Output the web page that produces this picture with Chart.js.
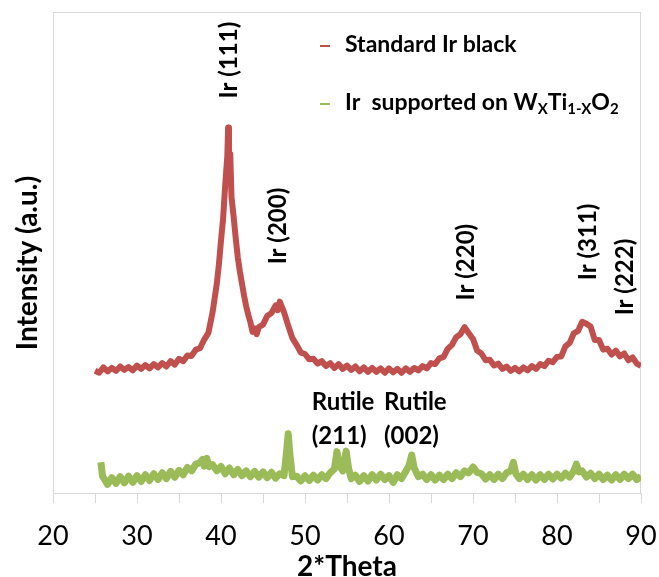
<!DOCTYPE html>
<html>
<head>
<meta charset="utf-8">
<script src="https://cdn.jsdelivr.net/npm/chart.js@4.4.0/dist/chart.umd.min.js"></script>
<style>
html,body{margin:0;padding:0;background:#fff;}
#c{display:block;}
</style>
</head>
<body>
<canvas id="c" width="659" height="577"></canvas>
<script>
// ---- data ----
const redTheta = [25.0,25.5,26.0,26.5,27.0,27.5,28.0,28.5,29.0,29.5,30.0,30.5,31.0,31.5,32.0,32.5,33.0,33.5,34.0,34.5,35.0,35.5,36.0,36.5,37.0,37.5,38.0,38.5,39.0,39.5,39.75,40.0,40.25,40.5,40.75,40.85,40.95,41.1,41.25,41.5,41.75,42.0,42.25,42.5,42.75,43.0,43.25,43.5,43.75,44.0,44.25,44.5,45.0,45.5,46.0,46.5,46.75,47.0,47.5,48.0,48.5,49.0,49.5,50.0,50.5,51.0,51.5,52.0,52.5,53.0,53.5,54.0,54.5,55.0,55.5,56.0,56.5,57.0,57.5,58.0,58.5,59.0,59.5,60.0,60.5,61.0,61.5,62.0,62.5,63.0,63.5,64.0,64.5,65.0,65.5,66.0,66.5,67.0,67.5,68.0,68.5,69.0,69.5,70.0,70.5,71.0,71.5,72.0,72.5,73.0,73.5,74.0,74.5,75.0,75.5,76.0,76.5,77.0,77.5,78.0,78.5,79.0,79.5,80.0,80.5,81.0,81.5,82.0,82.5,83.0,83.5,84.0,84.5,85.0,85.5,86.0,86.5,87.0,87.5,88.0,88.5,89.0,89.5,90.0];
const redIntensity = [25.4,25.0,26.1,25.3,26.0,25.4,26.3,25.6,26.2,25.5,26.5,25.8,26.6,25.9,26.8,26.1,27.0,26.3,27.4,26.7,27.9,27.4,28.6,28.5,29.8,30.1,31.9,33.3,37.6,43.5,47.5,52.5,57.0,64.0,70.0,76.0,67.0,70.5,61.5,57.5,53.0,49.0,46.0,43.5,41.0,38.8,37.0,35.5,33.5,34.2,33.0,34.5,35.0,36.8,37.4,39.0,38.0,39.8,37.6,34.8,32.2,30.8,29.2,28.9,27.8,27.9,26.9,27.4,26.4,27.0,26.0,26.8,25.8,26.5,25.6,26.3,25.3,26.1,25.2,26.0,25.2,25.9,25.0,25.9,25.1,25.8,25.0,25.9,25.2,26.0,25.5,26.4,25.9,27.0,26.8,28.0,28.3,30.0,30.8,32.4,33.0,34.5,33.2,32.0,29.6,29.0,27.6,27.7,26.5,26.9,25.8,26.3,25.4,26.0,25.3,26.1,25.5,26.4,25.8,26.8,26.4,27.5,27.2,28.3,28.4,30.5,31.2,33.2,33.7,35.6,35.2,34.6,31.8,31.8,29.8,30.0,28.8,29.6,28.4,29.0,27.6,28.2,26.9,26.4];

const greenTheta = [25.7,25.9,26.5,27.0,27.5,28.0,28.5,29.0,29.5,30.0,30.5,31.0,31.5,32.0,32.5,33.0,33.5,34.0,34.5,35.0,35.5,36.0,36.5,37.0,37.5,37.8,38.0,38.3,38.6,39.0,39.5,40.0,40.5,41.0,41.5,42.0,42.5,43.0,43.5,44.0,44.5,45.0,45.5,46.0,46.5,47.0,47.5,47.8,48.0,48.2,48.5,49.0,49.5,50.0,50.5,51.0,51.5,52.0,52.5,53.0,53.5,53.8,54.1,54.5,54.9,55.2,55.5,56.0,56.5,57.0,57.5,58.0,58.5,59.0,59.5,60.0,60.5,61.0,61.5,62.0,62.4,62.7,63.0,63.5,64.0,64.5,65.0,65.5,66.0,66.5,67.0,67.5,68.0,68.5,69.0,69.5,70.0,70.5,71.0,71.5,72.0,72.5,73.0,73.5,74.0,74.5,74.8,75.1,75.5,76.0,76.5,77.0,77.5,78.0,78.5,79.0,79.5,80.0,80.5,81.0,81.5,82.0,82.3,82.6,83.0,83.5,84.0,84.5,85.0,85.5,86.0,86.5,87.0,87.5,88.0,88.5,89.0,89.5,90.0];
const greenIntensity = [6.4,3.5,1.8,3.2,2.0,3.4,2.1,3.5,2.2,3.6,2.4,3.8,2.6,4.0,2.8,4.2,3.0,4.5,3.3,4.7,3.8,5.3,4.6,6.0,6.3,7.0,5.6,7.2,5.5,5.9,4.6,5.5,4.0,5.2,3.8,4.9,3.6,4.6,3.4,4.5,3.3,4.4,3.2,4.3,3.1,4.0,3.6,8.5,12.3,8.0,3.4,3.5,2.5,3.6,2.6,3.7,2.7,3.8,3.0,4.2,5.0,8.6,5.8,4.6,8.7,5.0,3.0,3.7,2.4,3.6,2.5,3.8,2.7,3.9,2.8,3.6,2.2,3.8,3.0,4.5,5.8,7.9,5.2,3.4,3.9,2.8,3.8,2.7,3.7,2.8,3.9,3.0,4.2,3.4,4.6,4.2,5.4,4.3,4.0,2.9,3.8,2.8,3.9,3.0,4.2,4.6,6.4,4.0,3.0,3.9,2.8,3.8,2.7,3.8,2.8,3.9,2.9,3.9,3.1,4.1,3.3,4.6,6.0,4.4,4.6,3.3,4.1,3.0,3.9,2.8,3.7,2.7,3.8,2.8,3.9,3.0,3.9,2.8,3.5];

const xTickValues = [20,30,40,50,60,70,80,90];
const seriesNames = ['Standard Ir black', 'Ir  supported on W'];
const peakLabels = ['Ir (111)','Ir (200)','Ir (220)','Ir (311)','Ir (222)'];
const peakTheta = [41.0,46.8,69.2,83.7,88.1];
const peakLevel = [90.0,55.5,48.0,52.2,44.9];
const rutileLines = [['Rutile','(211)'],['Rutile','(002)']];
const rutileTheta = [50.8,59.4];
const rutileLevel = [11.8,11.8];

const RED = '#C0504D';
const GREEN = '#9BBB59';
const FONT = 'Lato, "Open Sans", sans-serif';

const toPts = (xs, ys) => xs.map((v, i) => ({x: v, y: ys[i]}));

const extras = {
  id: 'extras',
  beforeDatasetsDraw(chart) {
    const {ctx, chartArea: a} = chart;
    ctx.save();
    ctx.strokeStyle = '#D9D9D9';
    ctx.lineWidth = 1;
    ctx.strokeRect(a.left + 0.5, a.top + 0.5, a.right - a.left - 1, a.bottom - a.top);
    ctx.restore();
  },
  afterDraw(chart) {
    const {ctx, scales: {x, y}} = chart;
    ctx.save();
    ctx.fillStyle = '#000';
    // y axis title
    ctx.save();
    ctx.translate(28, 263);
    ctx.rotate(-Math.PI / 2);
    ctx.font = 'bold 28px ' + FONT;
    ctx.textAlign = 'center';
    ctx.textBaseline = 'middle';
    ctx.fillText('Intensity (a.u.)', 0, 0);
    ctx.restore();

    // peak labels (vertical)
    ctx.font = 'bold 24px ' + FONT;
    peakLabels.forEach((t, i) => {
      ctx.save();
      ctx.translate(x.getPixelForValue(peakTheta[i]), y.getPixelForValue(peakLevel[i]));
      ctx.rotate(-Math.PI / 2);
      ctx.textAlign = 'center';
      ctx.textBaseline = 'middle';
      ctx.fillText(t, 0, 0);
      ctx.restore();
    });
    // rutile labels
    ctx.textAlign = 'left';
    ctx.textBaseline = 'middle';
    ctx.font = 'bold 24px ' + FONT;
    rutileLines.forEach((lines, i) => {
      const px = x.getPixelForValue(rutileTheta[i]);
      const py = y.getPixelForValue(rutileLevel[i]);
      ctx.fillText(lines[0], px, py - 34);
      ctx.fillText(lines[1], px, py);
    });

    // legend
    const lx = 320, tx = 345;
    const rows = [52, 110];
    ctx.lineWidth = 2;
    [RED, GREEN].forEach((c, i) => {
      ctx.strokeStyle = c;
      ctx.beginPath();
      ctx.moveTo(lx, rows[i] - 6);
      ctx.lineTo(lx + 10, rows[i] - 6);
      ctx.stroke();
    });
    ctx.textBaseline = 'alphabetic';
    ctx.font = 'bold 23px ' + FONT;
    ctx.fillText(seriesNames[0], tx, rows[0]);
    let cx = tx;
    const parts = [[seriesNames[1], 0], ['X', 1], ['Ti', 0], ['1-X', 1], ['O', 0], ['2', 1]];
    parts.forEach(([t, sub]) => {
      ctx.font = sub ? 'bold 15px ' + FONT : 'bold 23px ' + FONT;
      ctx.fillText(t, cx, rows[1] + (sub ? 4 : 0));
      cx += ctx.measureText(t).width;
    });
    ctx.restore();
  }
};

new Chart(document.getElementById('c'), {
  type: 'line',
  data: {
    datasets: [
      {label: seriesNames[0], data: toPts(redTheta, redIntensity), borderColor: RED, borderWidth: 6, pointRadius: 0, tension: 0, fill: false, borderJoinStyle: 'round'},
      {label: seriesNames[1], data: toPts(greenTheta, greenIntensity), borderColor: GREEN, borderWidth: 7, pointRadius: 0, tension: 0, fill: false, borderJoinStyle: 'round'}
    ]
  },
  options: {
    responsive: false,
    animation: false,
    devicePixelRatio: 1,
    layout: {padding: {left: 53, right: 18, top: 12, bottom: 0}},
    plugins: {legend: {display: false}, tooltip: {enabled: false}},
    scales: {
      x: {
        type: 'linear', min: 20, max: 90,
        ticks: {
          stepSize: 5, autoSkip: false, maxRotation: 0, padding: 17,
          color: '#000', font: {family: FONT, size: 27},
          callback: v => xTickValues.includes(v) ? String(v) : ''
        },
        grid: {drawOnChartArea: false, drawTicks: true, tickLength: 10, color: '#D9D9D9'},
        border: {display: true, color: '#D9D9D9'},
        title: {display: true, text: '2*Theta', color: '#000', font: {family: FONT, size: 28, weight: 'bold'}, padding: {top: 0, bottom: -7}},
        afterFit: s => { s.height = 84; s.paddingLeft = 0; s.paddingRight = 0; }
      },
      y: {display: false, min: 0, max: 100}
    }
  },
  plugins: [extras]
});
</script>
</body>
</html>
